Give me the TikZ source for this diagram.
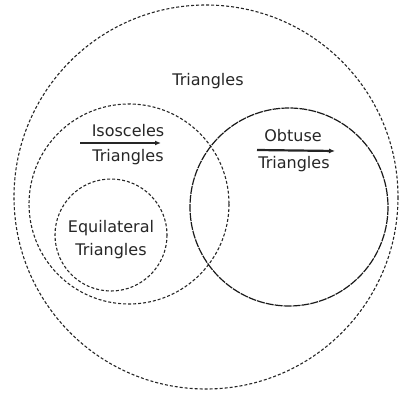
\documentclass[tikz,border=0pt]{standalone}
\usepackage{fontspec}
\setmainfont{DejaVu Sans}
\usetikzlibrary{arrows.meta}
\begin{document}
\begin{tikzpicture}[x=1pt,y=-1pt,
  setcircle/.style={draw=black!85, line width=1.1pt, dash pattern=on 3pt off 2pt},
  solidish/.style={draw=black!90, line width=1.2pt, dash pattern=on 8pt off 1pt},
  lbl/.style={font=\fontsize{16}{18}\selectfont, text=black!85, align=center, inner sep=1pt},
  uline/.style={draw=black!85, line width=2.2pt, -{Latex[length=6pt,width=5pt]}}
]
\useasboundingbox (0,0) rectangle (400,401);
% circles
\draw[setcircle] (206,197) circle (192);
\draw[setcircle] (129,204) circle (100);
\draw[solidish] (289,207) circle (99);
\draw[setcircle] (111,235) circle (56);
% labels
\node[lbl] (tri) at (208,81) {Triangles};
\node[lbl] (iso) at (128,131) {Isosceles};
\node[lbl] (isot) at (128,157) {Triangles};
\node[lbl] (obt) at (293,136) {Obtuse};
\node[lbl] (obtt) at (294,164) {Triangles};
\node[lbl] (equ) at (111,228) {Equilateral};
\node[lbl] (equt) at (111,251) {Triangles};
% underline arrows
\coordinate (isoA) at (80,143);
\coordinate (isoB) at (161,143);
\draw[uline] (isoA) -- (isoB);
\coordinate (obtA) at (257,150);
\coordinate (obtB) at (335,151);
\draw[uline] (obtA) -- (obtB);
\end{tikzpicture}
\end{document}
